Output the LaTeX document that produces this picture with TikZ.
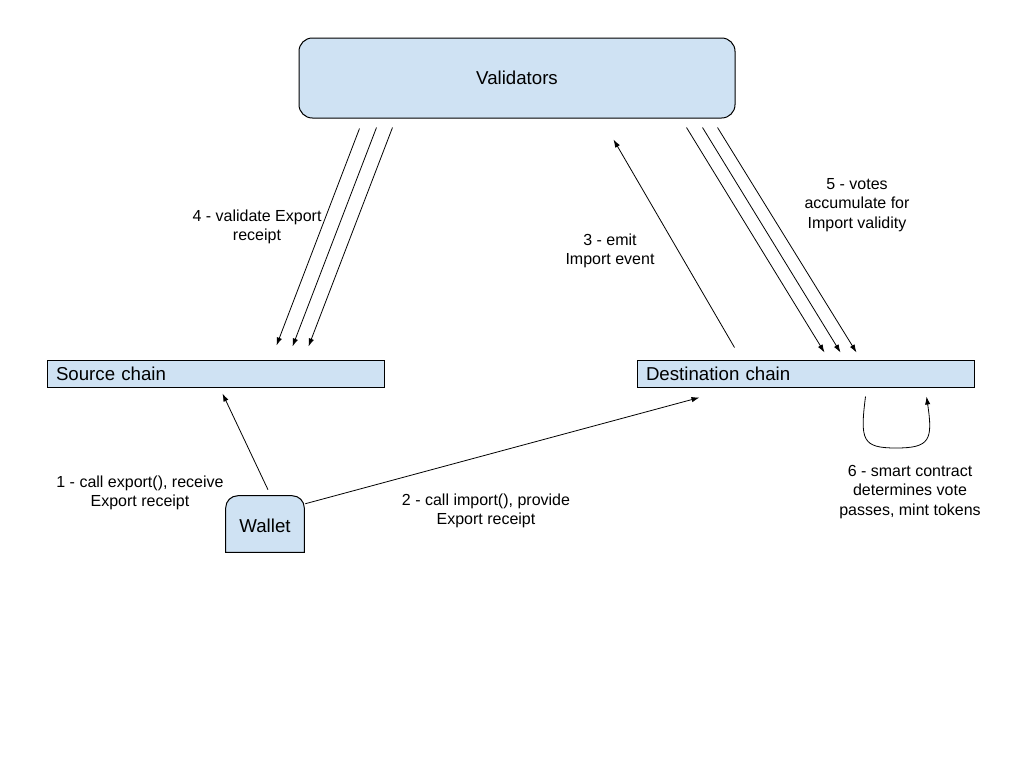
\documentclass[tikz,border=0pt]{standalone}
\usepackage{fontspec}
\setmainfont{Liberation Sans}
\usetikzlibrary{arrows.meta,calc}
\definecolor{boxblue}{HTML}{CFE2F3}
\begin{document}
\begin{tikzpicture}[x=0.75pt,y=-0.75pt,
  box/.style={draw=black,fill=boxblue,line width=0.75pt},
  chainbox/.style={box,minimum height=20.25pt,inner ysep=0pt,inner xsep=6.75pt,
     text width=239.25pt,align=left,font=\fontsize{14}{17}\selectfont},
  lbl/.style={align=center,font=\fontsize{12}{14.6}\selectfont,inner sep=0pt},
  conn/.style={line width=0.6pt,-{Latex[length=6pt,width=4pt]}}]
\useasboundingbox[fill=white] (0,0) rectangle (1024,768);

\node[box,rounded corners=10pt,minimum width=327pt,minimum height=60pt,
  font=\fontsize{14}{17}\selectfont] (V) at (517,78) {\raisebox{-1.5pt}{Validators}};
\node[chainbox] (S) at (215.5,373.5) {\raisebox{-1.2pt}{Source chain}};
\node[chainbox] (D) at (805.5,373.5) {\raisebox{-1.2pt}{Destination chain}};

% Wallet: rounded top corners, square bottom
\node[minimum width=58.5pt,minimum height=42pt,inner sep=0pt] (W) at (265,524) {};
\draw[box] (W.south west) -- ([yshift=-9pt]W.north west)
  arc[start angle=180,end angle=90,radius=9pt]
  -- ([xshift=-9pt]W.north east)
  arc[start angle=90,end angle=0,radius=9pt]
  -- (W.south east) -- cycle;
\node[font=\fontsize{14}{17}\selectfont] at ($(W.center)+(0,2)$) {Wallet};

% 4 - validate
\draw[conn] ($(V.south west)+(61,10)$) -- ($(S.north west)+(230,-14)$);
\draw[conn] ($(V.south west)+(78,9)$) -- ($(S.north west)+(246,-13)$);
\draw[conn] ($(V.south west)+(94,9)$) -- ($(S.north west)+(262,-13)$);

% 5 - votes
\draw[conn] ($(V.south west)+(388,9)$) -- ($(D.north west)+(188,-7)$);
\draw[conn] ($(V.south west)+(404,9)$) -- ($(D.north west)+(204,-7)$);
\draw[conn] ($(V.south west)+(419,9)$) -- ($(D.north west)+(220,-7)$);

% 3 - emit
\draw[conn] ($(D.north west)+(98,-12)$) -- ($(V.south west)+(315,21)$);

% 1 and 2
\draw[conn] ($(W.north)+(3,-6)$) -- ($(S.south west)+(176,6)$);
\draw[conn] ($(W.north east)+(1,8)$) -- ($(D.south west)+(63,10)$);

% 6 - loop
\draw[conn] ($(D.south west)+(229,9)$) .. controls (860,440) and (862,448) .. (896,448)
  .. controls (930,448) and (933,440) .. ($(D.south west)+(290,9)$);

% labels
\node[lbl] (L4) at (257,227) {4 - validate Export\\receipt};
\node[lbl] (L3) at (610,251) {3 - emit\\Import event};
\node[lbl] (L5) at (857,205) {5 - votes\\accumulate for\\Import validity};
\node[lbl] (L1) at (140,493) {1 - call export(), receive\\Export receipt};
\node[lbl] (L2) at (486,511) {2 - call import(), provide\\Export receipt};
\node[lbl] (L6) at (910,492) {6 - smart contract\\determines vote\\passes, mint tokens};
\end{tikzpicture}
\end{document}
